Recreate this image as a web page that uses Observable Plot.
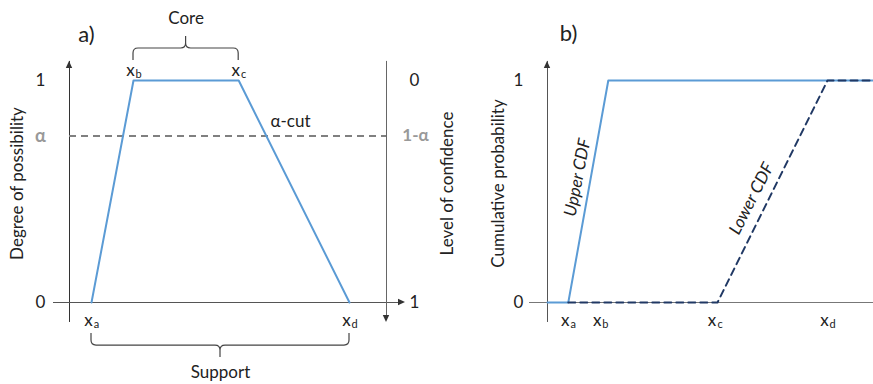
<!DOCTYPE html>
<html><head><meta charset="utf-8">
<script src="https://cdn.jsdelivr.net/npm/d3@7"></script>
<script src="https://cdn.jsdelivr.net/npm/@observablehq/plot@0.6"></script>
<style>
body{margin:0;background:#fff;}
#chart{position:relative;width:873px;height:384px;}
#chart > svg{position:absolute;top:0;}
</style></head><body><div id="chart"></div>
<script>
// ---------- data ----------
const breakpoints = ["a", "b", "c", "d"];
const possX = [0.55, 1.6, 4.23, 7.0];          // panel a: x_a..x_d
const possY = [0, 1, 1, 0];                      // degree of possibility
const alpha = 0.75;
const rightAxisX = 7.925;                        // level-of-confidence axis position
const leftTickLabels = ["1", "0"];
const leftTickValues = [1, 0];
const rightTickLabels = ["0", "1"];
const rightTickValues = [1, 0];
const alphaLabelLeft = "α";
const alphaLabelRight = "1-α";
const cdfX = [0.52, 1.52, 4.25, 7.0];            // panel b: x_a..x_d
const cdfLabelX = [0.52, 1.32, 4.19, 7.0];       // panel b tick label positions
const upperX = [0, cdfX[0], cdfX[1], 8.15];
const upperY = [0, 0, 1, 1];
const lowerX = [cdfX[0], cdfX[2], cdfX[3], 8.15];
const lowerY = [0, 0, 1, 1];
const bTickLabels = ["1", "0"];
const bTickValues = [1, 0];

// ---------- style ----------
const FONT = "Lato, 'Open Sans', sans-serif";
const BLUE = "#5b9bd5", NAVY = "#203864", GRAY = "#808080", LGRAY = "#999999", INK = "#222";
const yAxisMin = -0.09, yAxisMax = 1.086;
const FS = 17;

function arrowHead(xv, yv, dir, color) {
  return (index, scales) => {
    const px = scales.x(xv), py = scales.y(yv), L = 7, W = 3.2;
    let d;
    if (dir === "up") d = `M${px},${py}L${px - W},${py + L}L${px + W},${py + L}Z`;
    else if (dir === "down") d = `M${px},${py}L${px - W},${py - L}L${px + W},${py - L}Z`;
    else d = `M${px},${py}L${px - L},${py - W}L${px - L},${py + W}Z`;
    return d3.create("svg:path").attr("d", d).attr("fill", color).node();
  };
}
function brace(x1v, x2v, yv, dir, color) {
  return (index, scales) => {
    const a = scales.x(x1v), b = scales.x(x2v), y0 = scales.y(yv);
    const s = dir === "up" ? -1 : 1, h = 12, t = 12, r = 5, m = (a + b) / 2;
    const yb = y0 + s * h;
    const d = `M${a},${y0}L${a},${yb - s * r}Q${a},${yb} ${a + r},${yb}L${m - r},${yb}Q${m},${yb} ${m},${yb + s * r}L${m},${yb + s * t}` +
      `M${m},${yb + s * r}Q${m},${yb} ${m + r},${yb}L${b - r},${yb}Q${b},${yb} ${b},${yb - s * r}L${b},${y0}`;
    return d3.create("svg:path").attr("d", d).attr("fill", "none").attr("stroke", color).attr("stroke-width", 1.2).node();
  };
}
function xLabels(xs, letters, yv, dy) {
  const rows = xs.map((x, i) => ({x, y: yv, s: letters[i]}));
  return [
    Plot.text(rows, {x: "x", y: "y", text: () => "x", dx: -3, dy, fontSize: FS, fill: INK}),
    Plot.text(rows, {x: "x", y: "y", text: "s", dx: 5, dy: dy + 4, fontSize: 11, fill: INK})
  ];
}

// ---------- panel a ----------
const trap = possX.map((x, i) => ({x, y: possY[i]}));
const panelA = Plot.plot({
  width: 460, height: 384,
  marginLeft: 53, marginRight: 55, marginTop: 80, marginBottom: 82,
  x: {domain: [-0.4, 8.4], axis: null},
  y: {domain: [0, 1], axis: null},
  style: {fontFamily: FONT, background: "white", overflow: "visible"},
  marks: [
    Plot.ruleX([0], {y1: yAxisMin, y2: yAxisMax, stroke: "#333", strokeWidth: 1}),
    arrowHead(0, yAxisMax, "up", "#333"),
    Plot.ruleY([0], {x1: -0.4, x2: 8.3, stroke: "#555", strokeWidth: 1}),
    arrowHead(8.4, 0, "right", "#333"),
    Plot.ruleX([rightAxisX], {y1: yAxisMax, y2: yAxisMin + 0.03, stroke: "#666", strokeWidth: 1}),
    arrowHead(rightAxisX, yAxisMin, "down", "#333"),
    Plot.ruleY([alpha], {x1: 0, x2: rightAxisX, stroke: GRAY, strokeWidth: 2, strokeDasharray: "7,5"}),
    Plot.line(trap, {x: "x", y: "y", stroke: BLUE, strokeWidth: 2}),
    Plot.text(leftTickLabels, {x: -0.725, y: (d, i) => leftTickValues[i], text: d => d, fontSize: FS, fill: INK}),
    Plot.text([alphaLabelLeft], {x: -0.725, y: alpha, text: d => d, fontSize: FS + 1, fill: LGRAY, fontWeight: "bold"}),
    Plot.text(rightTickLabels, {x: 8.625, y: (d, i) => rightTickValues[i], text: d => d, fontSize: FS, fill: INK}),
    Plot.text([alphaLabelRight], {x: 8.65, y: alpha, text: d => d, fontSize: FS, fill: LGRAY, fontWeight: "bold"}),
    Plot.text(["Degree of possibility"], {x: -1.3, y: 0.536, text: d => d, rotate: -90, fontSize: FS, fill: INK}),
    Plot.text(["Level of confidence"], {x: 9.45, y: 0.536, text: d => d, rotate: -90, fontSize: FS, fill: INK}),
    Plot.text(["α-cut"], {x: 5.525, y: 0.815, text: d => d, fontSize: FS, fill: INK}),
    Plot.text(["a)"], {x: 0.425, y: 1.207, text: d => d, fontSize: 22, fill: INK}),
    ...xLabels([possX[1], possX[2]], [breakpoints[1], breakpoints[2]], 1, -10),
    ...xLabels([possX[0], possX[3]], [breakpoints[0], breakpoints[3]], 0, 18),
    brace(possX[1], possX[2], 1.09, "up", "#444"),
    Plot.text(["Core"], {x: (possX[1] + possX[2]) / 2, y: 1.28, text: d => d, fontSize: FS, fill: INK}),
    brace(possX[0], possX[3], -0.14, "down", "#444"),
    Plot.text(["Support"], {x: (possX[0] + possX[3]) / 2, y: -0.315, text: d => d, fontSize: FS, fill: INK})
  ]
});
panelA.style.left = "0px";

// ---------- panel b ----------
const upper = upperX.map((x, i) => ({x, y: upperY[i]}));
const lower = lowerX.map((x, i) => ({x, y: lowerY[i]}));
const panelB = Plot.plot({
  width: 413, height: 384,
  marginLeft: 69, marginRight: 0, marginTop: 80, marginBottom: 82,
  x: {domain: [-0.45, 8.15], axis: null},
  y: {domain: [0, 1], axis: null},
  style: {fontFamily: FONT, background: "white", overflow: "visible"},
  marks: [
    Plot.ruleX([0], {y1: yAxisMin, y2: yAxisMax, stroke: "#555", strokeWidth: 1}),
    arrowHead(0, yAxisMax, "up", "#333"),
    Plot.ruleY([0], {x1: -0.45, x2: 8.15, stroke: "#777", strokeWidth: 1}),
    Plot.line(upper, {x: "x", y: "y", stroke: BLUE, strokeWidth: 2}),
    Plot.line(lower, {x: "x", y: "y", stroke: NAVY, strokeWidth: 2, strokeDasharray: "7,5"}),
    Plot.text(bTickLabels, {x: -0.725, y: (d, i) => bTickValues[i], text: d => d, fontSize: FS, fill: INK}),
    Plot.text(["Cumulative probability"], {x: -1.225, y: 0.536, text: d => d, rotate: -90, fontSize: FS, fill: INK}),
    Plot.text(["b)"], {x: 0.525, y: 1.21, text: d => d, fontSize: 22, fill: INK}),
    Plot.text(["Upper CDF"], {x: 0.75, y: 0.563, text: d => d, rotate: -79, fontSize: FS, fontStyle: "italic", fill: INK}),
    Plot.text(["Lower CDF"], {x: 5.1, y: 0.468, text: d => d, rotate: -63, fontSize: FS, fontStyle: "italic", fill: INK}),
    ...xLabels(cdfLabelX, breakpoints, 0, 18)
  ]
});
panelB.style.left = "460px";

document.getElementById("chart").append(panelA, panelB);
</script></body></html>
